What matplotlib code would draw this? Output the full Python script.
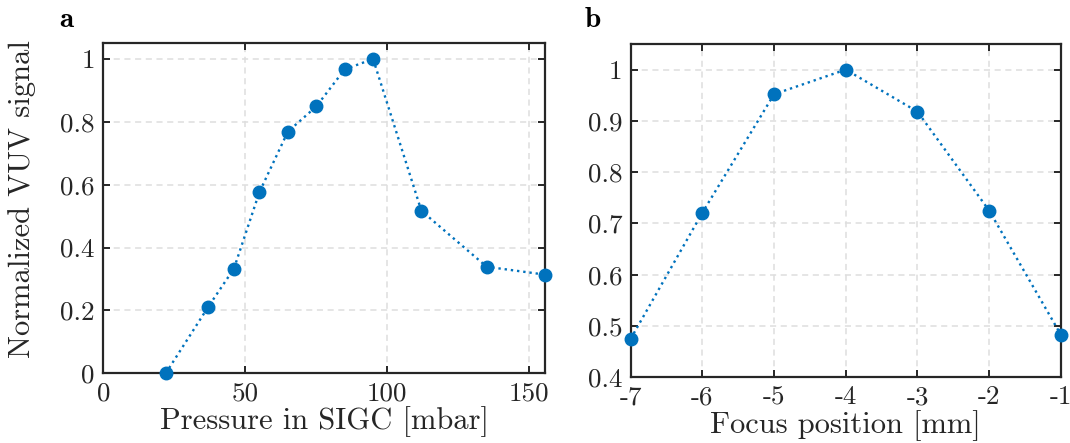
import matplotlib
matplotlib.use('Agg')
import matplotlib.pyplot as plt
from matplotlib.ticker import FuncFormatter

# data
pressure = [22, 37, 46, 55, 65, 75, 85, 95, 112, 135, 155.5]
signal_p = [0.0, 0.212, 0.333, 0.577, 0.769, 0.849, 0.967, 1.0, 0.517, 0.339, 0.314]

focus = [-7, -6, -5, -4, -3, -2, -1]
signal_f = [0.475, 0.721, 0.952, 1.0, 0.918, 0.725, 0.483]

BLUE = '#0072BD'
DARK = '#262626'

plt.rcParams['font.family'] = 'cmr10'
plt.rcParams['axes.unicode_minus'] = False
plt.rcParams['mathtext.fontset'] = 'cm'

fig = plt.figure(figsize=(10.7, 4.43), dpi=100)
ax1 = fig.add_axes([0.0965, 0.1573, 0.4128, 0.745])
ax2 = fig.add_axes([0.5894, 0.1483, 0.4021, 0.7524])

fmt = FuncFormatter(lambda v, p: f'{v:g}')

for ax, xs, ys in [(ax1, pressure, signal_p), (ax2, focus, signal_f)]:
    ax.plot(xs, ys, linestyle=':', color=BLUE, linewidth=1.7,
            marker='o', markersize=9, clip_on=False, zorder=3)
    ax.grid(True, linestyle=(0, (4, 3)), color='#dedede', linewidth=1.1)
    ax.set_axisbelow(True)
    for s in ax.spines.values():
        s.set_color(DARK)
        s.set_linewidth(1.6)
    ax.tick_params(direction='in', length=5, width=1.4, color=DARK,
                   top=True, right=True, labelsize=19.5, labelcolor=DARK, pad=6)
    ax.xaxis.set_major_formatter(fmt)
    ax.yaxis.set_major_formatter(fmt)

ax1.set_xlim(0, 155.5)
ax1.set_ylim(0, 1.05)
ax1.set_xticks([0, 50, 100, 150])
ax1.set_yticks([0, 0.2, 0.4, 0.6, 0.8, 1])
ax1.set_xlabel('Pressure in SIGC [mbar]', fontsize=22, color=DARK)
ax1.set_ylabel('Normalized VUV signal', fontsize=22, color=DARK)
ax1.xaxis.set_label_coords(0.5, -0.1)
ax1.yaxis.set_label_coords(-0.152, 0.528)

ax2.set_xlim(-7, -1)
ax2.set_ylim(0.4, 1.05)
ax2.set_xticks(focus)
ax2.set_yticks([0.4, 0.5, 0.6, 0.7, 0.8, 0.9, 1])
ax2.set_xlabel('Focus position [mm]', fontsize=22, color=DARK)
ax2.xaxis.set_label_coords(0.5, -0.097)

fig.text(0.062, 0.939, 'a', fontsize=21, family='cmb10', ha='center', va='baseline')
fig.text(0.554, 0.939, 'b', fontsize=21, family='cmb10', ha='center', va='baseline')

fig.savefig('out.png', dpi=100)
